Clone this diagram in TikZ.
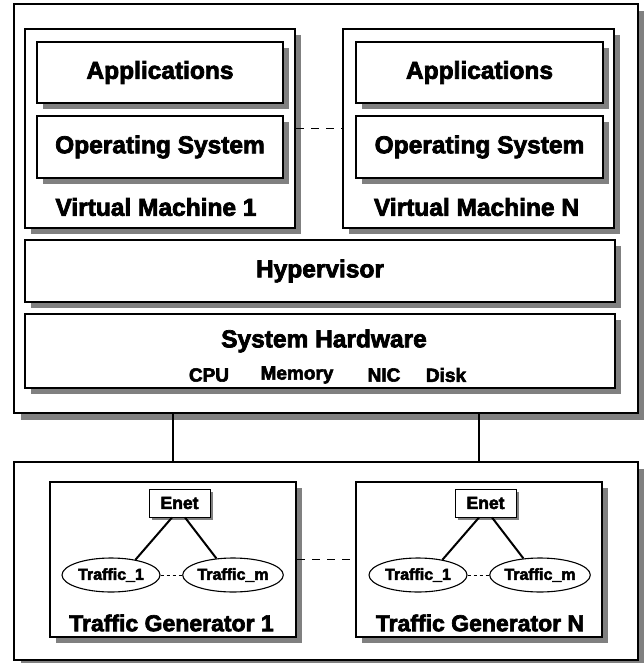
\documentclass[tikz,border=0pt]{standalone}
\usepackage{fontspec}
\setmainfont{Liberation Sans}[BoldFeatures={FakeBold=3}]
\usetikzlibrary{shapes.geometric}

\tikzset{
  shadowed/.style={preaction={fill=black!50, transform canvas={xshift=#1, yshift=-#1}}},
  panel/.style={draw, line width=2pt, fill=white, inner sep=0pt, shadowed=7pt},
  layer/.style={draw, line width=2pt, fill=white, inner sep=0pt, shadowed=6pt},
  enetbox/.style={draw, line width=1pt, fill=white, inner sep=0pt,
    minimum width=61pt, minimum height=28pt, shadowed=3pt,
    font=\bfseries\fontsize{17.5}{20}\selectfont},
  traffic/.style={ellipse, draw, line width=1.1pt, fill=white, inner sep=0pt,
    minimum width=98pt, minimum height=34pt,
    font=\bfseries\fontsize{16}{18}\selectfont},
  big/.style={font=\bfseries\fontsize{24.5}{28}\selectfont},
  mid/.style={font=\bfseries\fontsize{23}{26}\selectfont},
  small/.style={font=\bfseries\fontsize{19}{22}\selectfont},
  link/.style={line width=2pt},
  gap/.style={line width=1.6pt, dash pattern=on 8pt off 7pt},
  fine/.style={line width=0.8pt, dash pattern=on 3pt off 3pt},
}

\begin{document}
\begin{tikzpicture}[x=1pt, y=-1pt]
  \useasboundingbox (0,0) rectangle (644,663);

  % host machine
  \node[panel, minimum width=624pt, minimum height=409pt] (host) at (326,208.5) {};

  % virtual machines
  \node[layer, minimum width=270pt, minimum height=199pt] (vm1) at (160,128.5) {};
  \node[layer, minimum width=271pt, minimum height=199pt] (vmN) at (478.5,128.5) {};
  \node[layer, big, minimum width=246pt, minimum height=61pt] (app1) at (160,72.5) {Applications};
  \node[layer, big, minimum width=246pt, minimum height=62pt] (os1) at (160,147) {Operating System};
  \node[layer, big, minimum width=247pt, minimum height=61pt] (appN) at (479.5,72.5) {Applications};
  \node[layer, big, minimum width=247pt, minimum height=62pt] (osN) at (479.5,147) {Operating System};
  \node[big] (vm1label) at (156,207) {Virtual Machine 1};
  \node[big] (vmNlabel) at (476.5,207) {Virtual Machine N};
  \draw[gap] (vm1.east) -- (vmN.west);

  % hypervisor and hardware
  \node[layer, big, minimum width=590pt, minimum height=62pt] (hyp) at (320,271) {Hypervisor};
  \node[layer, minimum width=590pt, minimum height=74pt] (hw) at (320,351) {};
  \node[big] (hwlabel) at (324,341) {System Hardware};
  \node[small] (cpu) at (209,375) {CPU};
  \node[small] (mem) at (297,375) {Memory};
  \node[small] (nic) at (384,375) {NIC};
  \node[small] (disk) at (446,375) {Disk};

  % traffic generator machine
  \node[panel, minimum width=624pt, minimum height=198pt] (gen) at (326,561) {};

  \node[layer, minimum width=246pt, minimum height=155pt] (tg1) at (173,559.5) {};
  \node[layer, minimum width=246pt, minimum height=155pt] (tgN) at (479,559.5) {};

  \node[enetbox] (enet1) at (179.5,503) {Enet};
  \node[traffic] (t1a) at (111,575) {Traffic\_1};
  \node[traffic] (t1b) at (233,575) {Traffic\_m};
  \node[mid] (tg1label) at (171.5,623) {Traffic Generator 1};

  \node[enetbox] (enetN) at (485.5,503) {Enet};
  \node[traffic] (tNa) at (418,575) {Traffic\_1};
  \node[traffic] (tNb) at (540,575) {Traffic\_m};
  \node[mid] (tgNlabel) at (480,623) {Traffic Generator N};

  \draw[link] ([xshift=-7.5pt]enet1.south) -- (t1a.32);
  \draw[link] ([xshift=5.5pt]enet1.south) -- (t1b.135);
  \draw[fine] (t1a.east) -- (t1b.west);
  \draw[link] ([xshift=-6.5pt]enetN.south) -- (tNa.32);
  \draw[link] ([xshift=6.5pt]enetN.south) -- (tNb.135);
  \draw[fine] (tNa.east) -- (tNb.west);
  \draw[gap] (tg1.east) -- (tgN.west);

  % links between the two machines
  \draw[link] (tg1.north |- host.south) -- (tg1.north |- gen.north);
  \draw[link] (tgN.north |- host.south) -- (tgN.north |- gen.north);
\end{tikzpicture}
\end{document}
